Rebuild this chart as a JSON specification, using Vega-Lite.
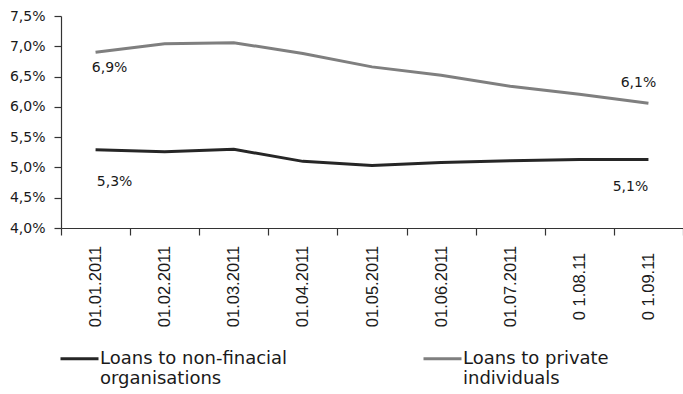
{
  "$schema": "https://vega.github.io/schema/vega-lite/v6.json",
  "width": 622,
  "height": 212,
  "autosize": {"type": "none"},
  "padding": {"left": 61, "top": 16, "right": 0, "bottom": 166},
  "config": {
    "view": {"stroke": null},
    "font": "DejaVu Sans",
    "style": {"guide-label": {"lineHeight": 20}},
    "axis": {"domainColor": "#333333", "tickColor": "#333333", "domainWidth": 1.2, "tickWidth": 1.2, "grid": false, "title": null}
  },
  "data": {
    "values": [
      {"date": "01.01.2011", "series": "Loans to non-finacial organisations", "rate": 5.29},
      {"date": "01.02.2011", "series": "Loans to non-finacial organisations", "rate": 5.26},
      {"date": "01.03.2011", "series": "Loans to non-finacial organisations", "rate": 5.30},
      {"date": "01.04.2011", "series": "Loans to non-finacial organisations", "rate": 5.10},
      {"date": "01.05.2011", "series": "Loans to non-finacial organisations", "rate": 5.03},
      {"date": "01.06.2011", "series": "Loans to non-finacial organisations", "rate": 5.08},
      {"date": "01.07.2011", "series": "Loans to non-finacial organisations", "rate": 5.11},
      {"date": "0 1.08.11", "series": "Loans to non-finacial organisations", "rate": 5.13},
      {"date": "0 1.09.11", "series": "Loans to non-finacial organisations", "rate": 5.13},
      {"date": "01.01.2011", "series": "Loans to private individuals", "rate": 6.90},
      {"date": "01.02.2011", "series": "Loans to private individuals", "rate": 7.04},
      {"date": "01.03.2011", "series": "Loans to private individuals", "rate": 7.06},
      {"date": "01.04.2011", "series": "Loans to private individuals", "rate": 6.88},
      {"date": "01.05.2011", "series": "Loans to private individuals", "rate": 6.66},
      {"date": "01.06.2011", "series": "Loans to private individuals", "rate": 6.52},
      {"date": "01.07.2011", "series": "Loans to private individuals", "rate": 6.34},
      {"date": "0 1.08.11", "series": "Loans to private individuals", "rate": 6.21},
      {"date": "0 1.09.11", "series": "Loans to private individuals", "rate": 6.06}
    ]
  },
  "transform": [
    {"calculate": "replace(format(datum.rate, '.1f'), '.', ',') + '%'", "as": "label"}
  ],
  "encoding": {
    "x": {
      "field": "date",
      "type": "ordinal",
      "sort": null,
      "scale": {"type": "band", "paddingInner": 0, "paddingOuter": 0},
      "axis": {
        "tickBand": "extent",
        "tickSize": 7,
        "labelAngle": -90,
        "labelAlign": "center",
        "labelBaseline": "middle",
        "labelPadding": 51,
        "labelFont": "Liberation Sans",
        "labelFontSize": 16.5,
        "labelColor": "#1a1a1a"
      }
    },
    "y": {
      "field": "rate",
      "type": "quantitative",
      "scale": {"domain": [4, 7.5], "nice": false, "zero": false},
      "axis": {
        "values": [4, 4.5, 5, 5.5, 6, 6.5, 7, 7.5],
        "labelExpr": "replace(format(datum.value, '.1f'), '.', ',') + '%'",
        "tickSize": 7,
        "labelPadding": 9,
        "labelFontSize": 14,
        "labelColor": "#1a1a1a"
      }
    }
  },
  "layer": [
    {
      "mark": {"type": "line", "strokeWidth": 3},
      "encoding": {
        "color": {
          "field": "series",
          "type": "nominal",
          "scale": {
            "domain": ["Loans to non-finacial organisations", "Loans to private individuals"],
            "range": ["#262626", "#7f7f7f"]
          },
          "legend": {
            "orient": "none",
            "legendX": -2,
            "legendY": 322,
            "direction": "horizontal",
            "columns": 2,
            "title": null,
            "symbolType": "stroke",
            "symbolSize": 1444,
            "symbolStrokeWidth": 3,
            "labelFont": "DejaVu Sans",
            "labelFontSize": 18,
            "labelColor": "#1a1a1a",
            "labelOffset": 0,
            "labelLimit": 400,
            "columnPadding": 129,
            "labelExpr": "datum.label == 'Loans to non-finacial organisations' ? ['Loans to non-finacial', 'organisations'] : ['Loans to private', 'individuals']"
          }
        }
      }
    },
    {
      "transform": [{"filter": "datum.series == 'Loans to private individuals' && datum.date == '01.01.2011'"}],
      "mark": {"type": "text", "dx": 14, "dy": 16, "fontSize": 14, "color": "#1a1a1a"},
      "encoding": {"text": {"field": "label"}}
    },
    {
      "transform": [{"filter": "datum.series == 'Loans to non-finacial organisations' && datum.date == '01.01.2011'"}],
      "mark": {"type": "text", "dx": 19, "dy": 32, "fontSize": 14, "color": "#1a1a1a"},
      "encoding": {"text": {"field": "label"}}
    },
    {
      "transform": [{"filter": "datum.series == 'Loans to private individuals' && datum.date == '0 1.09.11'"}],
      "mark": {"type": "text", "dx": -10, "dy": -20, "fontSize": 14, "color": "#1a1a1a"},
      "encoding": {"text": {"field": "label"}}
    },
    {
      "transform": [{"filter": "datum.series == 'Loans to non-finacial organisations' && datum.date == '0 1.09.11'"}],
      "mark": {"type": "text", "dx": -18, "dy": 27, "fontSize": 14, "color": "#1a1a1a"},
      "encoding": {"text": {"field": "label"}}
    }
  ]
}
